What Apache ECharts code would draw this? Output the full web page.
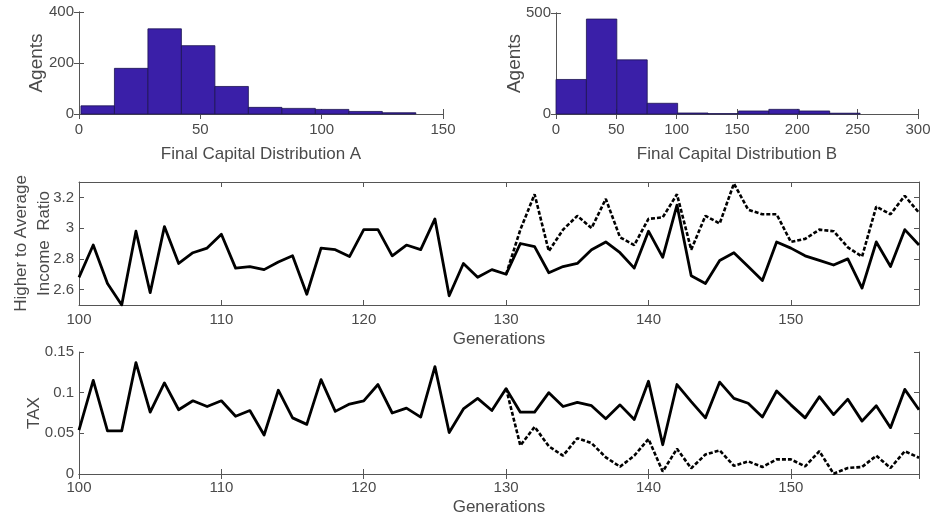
<!DOCTYPE html>
<html>
<head>
<meta charset="utf-8">
<script src="https://cdn.jsdelivr.net/npm/echarts@6/dist/echarts.min.js"></script>
<style>
    html, body { margin: 0; padding: 0; background: #fff; }
    #chart { width: 935px; height: 520px; }
</style>
</head>
<body>
<div id="chart"></div>
<script>
/* ========== histograms + generation time series ========== */

// histogram A: bin edges and counts
const histEdgesA = [0.8, 14.6, 28.4, 42.2, 56.0, 69.8, 83.6, 97.4, 111.2, 125.0, 138.8];
const histCountsA = [32, 179, 334, 268, 108, 26, 22, 18, 10, 5];

// histogram B
const histEdgesB = [0, 25.2, 50.4, 75.6, 100.8, 126, 151.2, 176.4, 201.6, 226.8, 252];
const histCountsB = [171, 470, 268, 53, 5, 2, 15, 23, 15, 4];

const generations = [
    100, 101, 102, 103, 104, 105, 106, 107, 108, 109,
    110, 111, 112, 113, 114, 115, 116, 117, 118, 119,
    120, 121, 122, 123, 124, 125, 126, 127, 128, 129,
    130, 131, 132, 133, 134, 135, 136, 137, 138, 139,
    140, 141, 142, 143, 144, 145, 146, 147, 148, 149,
    150, 151, 152, 153, 154, 155, 156, 157, 158, 159,
];
// dashed curves start at generation 130
const dashedGenerations = [
    130, 131, 132, 133, 134, 135, 136, 137, 138, 139,
    140, 141, 142, 143, 144, 145, 146, 147, 148, 149,
    150, 151, 152, 153, 154, 155, 156, 157, 158, 159,
];

const ratioSolid = [
    2.68, 2.89, 2.64, 2.50, 2.98, 2.58, 3.01, 2.77, 2.84, 2.87,
    2.96, 2.74, 2.75, 2.73, 2.78, 2.82, 2.57, 2.87, 2.86, 2.815,
    2.99, 2.99, 2.82, 2.89, 2.86, 3.06, 2.56, 2.77, 2.68, 2.73,
    2.70, 2.90, 2.88, 2.71, 2.75, 2.77, 2.86, 2.91, 2.84, 2.74,
    2.98, 2.81, 3.15, 2.69, 2.64, 2.79, 2.84, 2.75, 2.66, 2.91,
    2.87, 2.82, 2.79, 2.76, 2.80, 2.61, 2.91, 2.75, 2.99, 2.89,
];
const ratioDashed = [
    2.70, 2.99, 3.22, 2.85, 2.99, 3.08, 3.00, 3.19, 2.94, 2.89,
    3.06, 3.07, 3.22, 2.86, 3.08, 3.03, 3.29, 3.12, 3.09, 3.09,
    2.91, 2.93, 2.99, 2.98, 2.875, 2.815, 3.14, 3.09, 3.21, 3.10,
];
const ratioTicks = [2.6, 2.8, 3, 3.2];

const taxSolid = [
    0.054, 0.115, 0.053, 0.053, 0.137, 0.076, 0.112, 0.079, 0.090, 0.083,
    0.090, 0.071, 0.078, 0.048, 0.103, 0.069, 0.061, 0.116, 0.077, 0.086,
    0.090, 0.110, 0.075, 0.081, 0.070, 0.132, 0.051, 0.080, 0.093, 0.078,
    0.105, 0.076, 0.076, 0.100, 0.083, 0.088, 0.084, 0.068, 0.085, 0.067,
    0.114, 0.036, 0.110, 0.089, 0.069, 0.113, 0.093, 0.087, 0.070, 0.102,
    0.085, 0.069, 0.095, 0.073, 0.092, 0.065, 0.084, 0.057, 0.104, 0.079,
];
const taxDashed = [
    0.105, 0.035, 0.058, 0.034, 0.0225, 0.044, 0.038, 0.0205, 0.009, 0.0225,
    0.043, 0.003, 0.031, 0.007, 0.024, 0.029, 0.010, 0.0156, 0.0086, 0.018,
    0.018, 0.0094, 0.028, 0.0004, 0.0074, 0.0086, 0.0225, 0.0074, 0.028, 0.020,
];

const FONT = "Liberation Sans";
const AXIS_COLOR = "#555";
const TEXT_COLOR = "#4a4a4a";
const BAR_COLOR = "#3a1fa8";

const chart = echarts.init(document.getElementById("chart"));

function histData(edges, counts) {
    return counts.map((c, i) => [edges[i], edges[i + 1], c]);
}
function pairs(xs, ys) {
    return ys.map((y, i) => [xs[i], y]);
}

function renderBin(params, api) {
    const p0 = api.coord([api.value(0), api.value(2)]);
    const p1 = api.coord([api.value(1), 0]);
    return {
        type: "rect",
        shape: { x: p0[0], y: p0[1], width: p1[0] - p0[0], height: p1[1] - p0[1] },
        style: { fill: BAR_COLOR, stroke: "#1c1450", lineWidth: 0.8 },
    };
}

// main axis (with labels) + mirrored axis (ticks only) to get the matlab box
function xAxes(grid, min, max, interval, name, labelMargin, nameGap) {
    return [
        {
            type: "value", gridIndex: grid, position: "bottom", min, max, interval,
            name, nameLocation: "middle", nameGap, nameMoveOverlap: false,
            nameTextStyle: { fontFamily: FONT, fontSize: 17, color: TEXT_COLOR },
            axisLine: { show: true, lineStyle: { color: AXIS_COLOR } },
            axisTick: { inside: true, length: 5, lineStyle: { color: AXIS_COLOR } },
            axisLabel: {
                margin: labelMargin, fontFamily: FONT, fontSize: 15, color: TEXT_COLOR,
                showMaxLabel: max % interval === 0,
            },
            splitLine: { show: false },
        },
        {
            type: "value", gridIndex: grid, position: "top", min, max, interval,
            axisLine: { show: true, lineStyle: { color: AXIS_COLOR } },
            axisTick: { inside: true, length: 5, lineStyle: { color: AXIS_COLOR } },
            axisLabel: { show: false },
            splitLine: { show: false },
        },
    ];
}
function yAxes(grid, min, max, interval, name, nameGap, nameSize, ticks) {
    const main = {
        type: "value", gridIndex: grid, position: "left", min, max, interval,
        name, nameLocation: "middle", nameGap, nameMoveOverlap: false,
        nameTextStyle: { fontFamily: FONT, fontSize: nameSize, color: TEXT_COLOR, lineHeight: 23 },
        axisLine: { show: true, lineStyle: { color: AXIS_COLOR } },
        axisTick: { show: true, inside: true, length: 5, lineStyle: { color: AXIS_COLOR } },
        axisLabel: { margin: 5, fontFamily: FONT, fontSize: 15, color: TEXT_COLOR },
        splitLine: { show: false },
    };
    const mirror = {
        type: "value", gridIndex: grid, position: "right", min, max, interval,
        axisLine: { show: true, lineStyle: { color: AXIS_COLOR } },
        axisTick: { show: true, inside: true, length: 5, lineStyle: { color: AXIS_COLOR } },
        axisLabel: { show: false },
        splitLine: { show: false },
    };
    if (ticks) {
        main.axisLabel.customValues = ticks;
        main.axisTick.customValues = ticks;
        mirror.axisTick.customValues = ticks;
    }
    return [main, mirror];
}

const solidLine = { color: "#000", width: 2.8, join: "round" };
const dashedLine = { color: "#000", width: 2.6, type: [4, 2] };

chart.setOption({
    animation: false,
    grid: [
        { left: 79, top: 12, width: 364, height: 102, outerBoundsMode: "none" },
        { left: 556, top: 13, width: 362, height: 101, outerBoundsMode: "none" },
        { left: 79, top: 182, width: 840, height: 123, outerBoundsMode: "none" },
        { left: 79, top: 352, width: 840, height: 122, outerBoundsMode: "none" },
    ],
    xAxis: [
        ...xAxes(0, 0, 150, 50, "Final Capital Distribution A", 8, 32),
        ...xAxes(1, 0, 300, 50, "Final Capital Distribution B", 8, 32),
        ...xAxes(2, 100, 159, 10, "Generations", 7, 26),
        ...xAxes(3, 100, 159, 10, "Generations", 6, 25),
    ],
    yAxis: [
        ...yAxes(0, 0, 400, 200, "Agents", 30.5, 19),
        ...yAxes(1, 0, 500, 500, "Agents", 30, 19),
        ...yAxes(2, 2.5, 3.3, null, "Higher to Average\nIncome  Ratio", 23.5, 17, ratioTicks),
        ...yAxes(3, 0, 0.15, 0.05, "TAX", 33.5, 17),
    ],
    series: [
        {
            type: "custom", xAxisIndex: 0, yAxisIndex: 0,
            renderItem: renderBin, encode: { x: [0, 1], y: 2 },
            data: histData(histEdgesA, histCountsA),
        },
        {
            type: "custom", xAxisIndex: 2, yAxisIndex: 2,
            renderItem: renderBin, encode: { x: [0, 1], y: 2 },
            data: histData(histEdgesB, histCountsB),
        },
        {
            type: "line", xAxisIndex: 4, yAxisIndex: 4, symbol: "none",
            lineStyle: dashedLine, data: pairs(dashedGenerations, ratioDashed), z: 2,
        },
        {
            type: "line", xAxisIndex: 4, yAxisIndex: 4, symbol: "none",
            lineStyle: solidLine, data: pairs(generations, ratioSolid), z: 3,
        },
        {
            type: "line", xAxisIndex: 6, yAxisIndex: 6, symbol: "none",
            lineStyle: dashedLine, data: pairs(dashedGenerations, taxDashed), z: 2,
        },
        {
            type: "line", xAxisIndex: 6, yAxisIndex: 6, symbol: "none",
            lineStyle: solidLine, data: pairs(generations, taxSolid), z: 3,
        },
    ],
});
</script>
</body>
</html>
